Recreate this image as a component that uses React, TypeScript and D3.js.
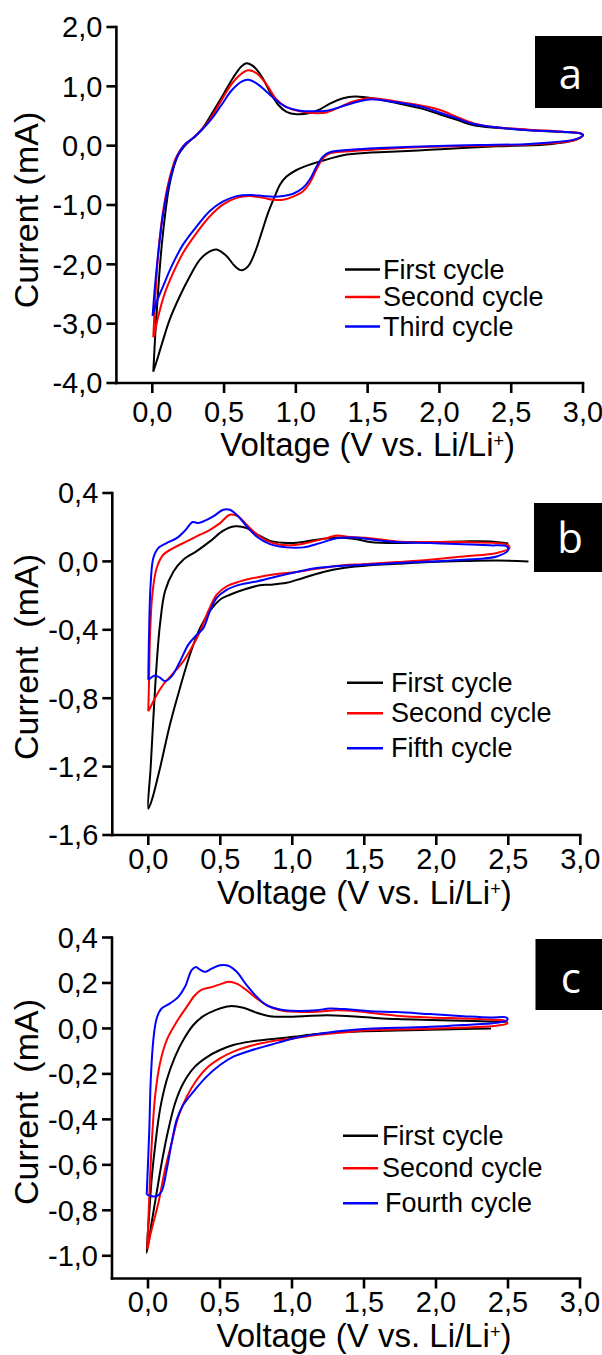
import React from 'react';
import * as d3 from 'd3';

type Pt = [number, number];

const xTicks = [0, 0.5, 1, 1.5, 2, 2.5, 3];
const aYTicks = [2, 1, 0, -1, -2, -3, -4];
const bYTicks = [0.4, 0, -0.4, -0.8, -1.2, -1.6];
const cYTicks = [0.4, 0.2, 0, -0.2, -0.4, -0.6, -0.8, -1.0];

const aLabels = ['First cycle', 'Second cycle', 'Third cycle'];
const bLabels = ['First cycle', 'Second cycle', 'Fifth cycle'];
const cLabels = ['First cycle', 'Second cycle', 'Fourth cycle'];
const colors = ['#000000', '#ff0000', '#0000ff'];

// Panel a
const aFirst: Pt[] = [
  [0.007, -3.81], [0.025, -3.0], [0.045, -2.3], [0.065, -1.7], [0.09, -1.15], [0.115, -0.72], [0.145, -0.4], [0.18, -0.16],
  [0.22, -0.02], [0.26, 0.08], [0.3, 0.16], [0.355, 0.31], [0.425, 0.58], [0.494, 0.86], [0.564, 1.15], [0.622, 1.34],
  [0.657, 1.39], [0.703, 1.34], [0.761, 1.17], [0.819, 0.91], [0.877, 0.69], [0.935, 0.57], [1.005, 0.53], [1.097, 0.55],
  [1.167, 0.61], [1.237, 0.71], [1.329, 0.8], [1.41, 0.83], [1.5, 0.81], [1.6, 0.77], [1.7, 0.72], [1.885, 0.62],
  [2.0, 0.53], [2.117, 0.44], [2.233, 0.35], [2.395, 0.3], [2.627, 0.26], [2.86, 0.23], [2.98, 0.21], [3.0, 0.18],
  [2.95, 0.1], [2.74, 0.02], [2.4, -0.01], [2.16, -0.04], [1.93, -0.07], [1.7, -0.1], [1.5, -0.12], [1.33, -0.16],
  [1.213, -0.235], [1.097, -0.32], [1.005, -0.41], [0.935, -0.52], [0.889, -0.66], [0.854, -0.85], [0.807, -1.13],
  [0.761, -1.47], [0.715, -1.8], [0.668, -2.03], [0.622, -2.1], [0.575, -2.03], [0.517, -1.86], [0.448, -1.75],
  [0.401, -1.78], [0.332, -1.92], [0.262, -2.2], [0.193, -2.53], [0.123, -2.92], [0.077, -3.26], [0.042, -3.54], [0.007, -3.81],
];
const aSecond: Pt[] = [
  [0.007, -3.23], [0.019, -2.64], [0.042, -1.8], [0.077, -1.08], [0.123, -0.52], [0.169, -0.18], [0.216, -0.01], [0.274, 0.11],
  [0.332, 0.24], [0.401, 0.44], [0.471, 0.72], [0.541, 1.0], [0.61, 1.19], [0.668, 1.27], [0.726, 1.22], [0.796, 1.03],
  [0.865, 0.78], [0.935, 0.65], [1.028, 0.58], [1.12, 0.55], [1.213, 0.56], [1.306, 0.65], [1.399, 0.745], [1.515, 0.8],
  [1.7, 0.745], [1.885, 0.67], [2.0, 0.605], [2.117, 0.49], [2.233, 0.38], [2.395, 0.31], [2.627, 0.27], [2.86, 0.235],
  [2.98, 0.21], [3.0, 0.18],
  [2.95, 0.1], [2.627, 0.02], [2.28, 0.0], [1.93, -0.02], [1.584, -0.06], [1.4, -0.09], [1.237, -0.13], [1.19, -0.21],
  [1.144, -0.4], [1.097, -0.63], [1.05, -0.77], [0.981, -0.86], [0.912, -0.91], [0.842, -0.91], [0.773, -0.88], [0.68, -0.85],
  [0.587, -0.88], [0.494, -0.99], [0.401, -1.19], [0.309, -1.47], [0.216, -1.8], [0.146, -2.14], [0.088, -2.48],
  [0.042, -2.87], [0.012, -3.2], [0.007, -3.23],
];
const aThird: Pt[] = [
  [0.002, -2.87], [0.019, -2.36], [0.042, -1.8], [0.077, -1.13], [0.123, -0.57], [0.169, -0.21], [0.227, 0.02], [0.285, 0.13],
  [0.343, 0.26], [0.413, 0.45], [0.483, 0.69], [0.552, 0.93], [0.622, 1.08], [0.668, 1.11], [0.726, 1.05], [0.796, 0.91],
  [0.865, 0.76], [0.935, 0.65], [1.028, 0.59], [1.12, 0.58], [1.213, 0.59], [1.306, 0.65], [1.399, 0.72], [1.515, 0.78],
  [1.7, 0.73], [1.885, 0.65], [2.0, 0.56], [2.117, 0.465], [2.233, 0.37], [2.395, 0.31], [2.627, 0.26], [2.86, 0.235],
  [2.99, 0.2], [3.0, 0.18],
  [2.95, 0.11], [2.627, 0.03], [2.28, 0.01], [1.93, -0.01], [1.584, -0.04], [1.4, -0.065], [1.237, -0.11], [1.19, -0.18],
  [1.144, -0.35], [1.097, -0.57], [1.05, -0.71], [0.981, -0.81], [0.912, -0.85], [0.842, -0.86], [0.773, -0.85], [0.68, -0.83],
  [0.587, -0.85], [0.494, -0.94], [0.401, -1.1], [0.309, -1.36], [0.216, -1.66], [0.135, -2.03], [0.077, -2.36],
  [0.03, -2.64], [0.002, -2.87],
];

// Panel b
const bFirst: Pt[] = [
  [2.64, 0.0], [2.42, 0.005], [2.19, 0.002], [1.956, -0.004], [1.725, -0.014], [1.539, -0.022], [1.354, -0.039], [1.215, -0.062],
  [1.076, -0.097], [0.96, -0.125], [0.845, -0.136], [0.775, -0.14], [0.66, -0.166], [0.567, -0.195], [0.498, -0.224],
  [0.428, -0.29], [0.359, -0.39], [0.289, -0.546], [0.22, -0.74], [0.15, -0.955], [0.081, -1.21], [0.023, -1.4], [0.0, -1.446],
  [0.016, -1.21], [0.035, -0.92], [0.058, -0.6], [0.081, -0.37], [0.116, -0.175], [0.174, -0.06], [0.243, 0.01], [0.336, 0.06],
  [0.428, 0.117], [0.521, 0.18], [0.602, 0.205], [0.683, 0.195], [0.752, 0.16], [0.845, 0.12], [0.9375, 0.109], [1.03, 0.109],
  [1.169, 0.127], [1.308, 0.14], [1.447, 0.13], [1.539, 0.113], [1.725, 0.107], [1.956, 0.113], [2.188, 0.117], [2.373, 0.117],
  [2.5, 0.105],
];
const bSecond: Pt[] = [
  [0.0, -0.877], [0.005, -0.7], [0.012, -0.43], [0.028, -0.195], [0.058, -0.039], [0.104, 0.039], [0.174, 0.078], [0.266, 0.117],
  [0.359, 0.156], [0.428, 0.185], [0.498, 0.224], [0.567, 0.273], [0.625, 0.263], [0.683, 0.214], [0.752, 0.16], [0.822, 0.121],
  [0.914, 0.097], [1.03, 0.097], [1.146, 0.117], [1.238, 0.136], [1.308, 0.152], [1.4, 0.142], [1.539, 0.136], [1.725, 0.117],
  [1.956, 0.113], [2.188, 0.113], [2.42, 0.107], [2.5, 0.095], [2.507, 0.078],
  [2.42, 0.049], [2.188, 0.029], [1.956, 0.01], [1.725, -0.004], [1.493, -0.016], [1.354, -0.022], [1.169, -0.043],
  [1.03, -0.062], [0.891, -0.074], [0.752, -0.094], [0.637, -0.117], [0.544, -0.146], [0.475, -0.195], [0.417, -0.29],
  [0.359, -0.41], [0.3, -0.507], [0.243, -0.585], [0.174, -0.653], [0.104, -0.72], [0.046, -0.8], [0.012, -0.858], [0.0, -0.877],
];
const bFifth: Pt[] = [
  [0.0, -0.692], [0.005, -0.43], [0.016, -0.136], [0.035, 0.02], [0.069, 0.078], [0.127, 0.107], [0.197, 0.136], [0.255, 0.18],
  [0.308, 0.23], [0.347, 0.224], [0.394, 0.238], [0.451, 0.263], [0.521, 0.302], [0.567, 0.302], [0.625, 0.263], [0.683, 0.205],
  [0.752, 0.146], [0.845, 0.101], [0.96, 0.082], [1.076, 0.082], [1.192, 0.107], [1.308, 0.136], [1.424, 0.14], [1.539, 0.13],
  [1.725, 0.113], [1.956, 0.107], [2.188, 0.1], [2.373, 0.094], [2.489, 0.088], [2.5, 0.068],
  [2.42, 0.029], [2.188, 0.01], [1.956, 0.0], [1.725, -0.01], [1.493, -0.02], [1.354, -0.025], [1.169, -0.039], [1.03, -0.062],
  [0.891, -0.088], [0.752, -0.117], [0.637, -0.136], [0.544, -0.166], [0.475, -0.214], [0.428, -0.29], [0.382, -0.39],
  [0.336, -0.43], [0.278, -0.487], [0.22, -0.585], [0.162, -0.672], [0.116, -0.7], [0.081, -0.68], [0.046, -0.667],
  [0.016, -0.682], [0.0, -0.692],
];

// Panel c
const cFirst: Pt[] = [
  [2.382, 0.0], [2.19, -0.003], [1.958, -0.006], [1.727, -0.009], [1.5, -0.012], [1.356, -0.016], [1.171, -0.025],
  [1.009, -0.037], [0.847, -0.048], [0.708, -0.058], [0.593, -0.073], [0.5, -0.095], [0.407, -0.127], [0.326, -0.168],
  [0.245, -0.241], [0.188, -0.329], [0.141, -0.446], [0.095, -0.592], [0.056, -0.738], [0.025, -0.855], [-0.009, -0.987],
  [0.009, -0.81], [0.025, -0.665], [0.049, -0.52], [0.083, -0.358], [0.13, -0.227], [0.188, -0.124], [0.245, -0.051],
  [0.315, 0.015], [0.384, 0.054], [0.477, 0.083], [0.569, 0.098], [0.662, 0.091], [0.755, 0.069], [0.847, 0.054],
  [0.94, 0.051], [1.079, 0.054], [1.24, 0.058], [1.403, 0.054], [1.542, 0.048], [1.727, 0.041], [1.958, 0.037],
  [2.19, 0.034], [2.375, 0.031], [2.49, 0.029],
];
const cSecond: Pt[] = [
  [-0.005, -0.972], [0.009, -0.738], [0.025, -0.519], [0.049, -0.3], [0.083, -0.154], [0.13, -0.051], [0.199, 0.029],
  [0.269, 0.095], [0.326, 0.146], [0.373, 0.171], [0.431, 0.18], [0.5, 0.194], [0.558, 0.205], [0.616, 0.197], [0.685, 0.168],
  [0.755, 0.132], [0.824, 0.102], [0.917, 0.08], [1.032, 0.073], [1.171, 0.073], [1.31, 0.08], [1.449, 0.076], [1.542, 0.069],
  [1.727, 0.056], [1.958, 0.048], [2.19, 0.044], [2.375, 0.039], [2.48, 0.034], [2.495, 0.022],
  [2.42, 0.012], [2.19, 0.004], [1.958, -0.001], [1.727, -0.005], [1.5, -0.009], [1.356, -0.018], [1.171, -0.029],
  [1.009, -0.044], [0.847, -0.058], [0.708, -0.077], [0.593, -0.102], [0.5, -0.132], [0.407, -0.175], [0.338, -0.227],
  [0.269, -0.3], [0.211, -0.387], [0.164, -0.504], [0.118, -0.621], [0.072, -0.768], [0.025, -0.885], [-0.005, -0.972],
];
const cFourth: Pt[] = [
  [-0.009, -0.731], [0.009, -0.446], [0.019, -0.227], [0.037, -0.051], [0.06, 0.044], [0.095, 0.088], [0.153, 0.11],
  [0.211, 0.139], [0.257, 0.183], [0.303, 0.256], [0.333, 0.27], [0.361, 0.259], [0.396, 0.249], [0.442, 0.263], [0.5, 0.278],
  [0.558, 0.276], [0.616, 0.249], [0.685, 0.19], [0.755, 0.139], [0.824, 0.102], [0.917, 0.083], [1.032, 0.077],
  [1.171, 0.08], [1.264, 0.088], [1.403, 0.083], [1.542, 0.076], [1.727, 0.072], [1.958, 0.063], [2.19, 0.054],
  [2.375, 0.048], [2.49, 0.048], [2.495, 0.037],
  [2.42, 0.025], [2.19, 0.015], [1.958, 0.007], [1.727, 0.003], [1.5, -0.002], [1.356, -0.01], [1.171, -0.025],
  [1.009, -0.044], [0.847, -0.073], [0.708, -0.098], [0.593, -0.124], [0.5, -0.161], [0.407, -0.212], [0.326, -0.27],
  [0.245, -0.336], [0.199, -0.402], [0.164, -0.504], [0.13, -0.621], [0.095, -0.716], [0.06, -0.738], [0.025, -0.738],
  [-0.009, -0.731],
];

const FONT = '"Liberation Sans", Arial, sans-serif';
const fmt = (v: number) => (Math.abs(v) < 1e-9 ? 0 : v).toFixed(1).replace('.', ',');

interface PanelProps {
  xRange: [number, number];
  yDomain: [number, number];
  yRange: [number, number];
  yTicks: number[];
  series: Pt[][];
  labels: string[];
  legend: { x1: number; x2: number; tx: number[]; ys: number[] };
  badge: { x: number; y: number; w: number; h: number; letter: string; ly: number };
  yTitle: string;
  yTitleY: number;
  xTickBase: number;
  xTitleBase: number;
}

function Panel(p: PanelProps) {
  const x = d3.scaleLinear().domain([-0.25, 3]).range(p.xRange);
  const y = d3.scaleLinear().domain(p.yDomain).range(p.yRange);
  const line = d3
    .line<Pt>()
    .x((d) => x(d[0]))
    .y((d) => y(d[1]))
    .curve(d3.curveCatmullRom.alpha(0.5));
  const ax = p.xRange[0];
  const ay = p.yRange[0];
  return (
    <g>
      {p.series.map((s, i) => (
        <path key={i} d={line(s) || ''} fill="none" stroke={colors[i]} strokeWidth={2} strokeLinejoin="round" />
      ))}
      <line x1={ax} x2={ax} y1={p.yRange[1]} y2={ay} stroke="#000" strokeWidth={2.6} strokeLinecap="square" />
      <line x1={ax} x2={x(3)} y1={ay} y2={ay} stroke="#000" strokeWidth={2.6} strokeLinecap="square" />
      {p.yTicks.map((t) => (
        <g key={'y' + t}>
          <line x1={ax - 10} x2={ax} y1={y(t)} y2={y(t)} stroke="#000" strokeWidth={2.6} />
          <text x={ax - 14} y={y(t)} dy="0.36em" textAnchor="end" fontSize={29} fontFamily={FONT} fill="#000">
            {fmt(t)}
          </text>
        </g>
      ))}
      {xTicks.map((t) => (
        <g key={'x' + t}>
          <line x1={x(t)} x2={x(t)} y1={ay} y2={ay + 10} stroke="#000" strokeWidth={2.6} />
          <text x={x(t)} y={p.xTickBase} textAnchor="middle" fontSize={29} fontFamily={FONT} fill="#000">
            {fmt(t)}
          </text>
        </g>
      ))}
      <text x={x(1.5)} y={p.xTitleBase} textAnchor="middle" fontSize={33} fontFamily={FONT} fill="#000">
        Voltage (V vs. Li/Li<tspan dy={-9} fontSize={18}>+</tspan><tspan dy={9}>)</tspan>
      </text>
      <text
        transform={`translate(38,${p.yTitleY}) rotate(-90)`}
        textAnchor="middle"
        fontSize={34}
        fontFamily={FONT}
        fill="#000"
        style={{ whiteSpace: 'pre' }}
      >
        {p.yTitle}
      </text>
      {p.labels.map((l, i) => (
        <g key={l}>
          <line x1={p.legend.x1} x2={p.legend.x2} y1={p.legend.ys[i]} y2={p.legend.ys[i]} stroke={colors[i]} strokeWidth={2.6} />
          <text x={p.legend.tx[i]} y={p.legend.ys[i] + 9} fontSize={27} fontFamily={FONT} fill="#000">
            {l}
          </text>
        </g>
      ))}
      <rect x={p.badge.x} y={p.badge.y} width={p.badge.w} height={p.badge.h} fill="#000" />
      <text
        x={p.badge.x + p.badge.w / 2 + 2}
        y={p.badge.ly}
        textAnchor="middle"
        fontSize={42}
        fontFamily='"Open Sans", "Noto Sans", sans-serif'
        fill="#fff"
      >
        {p.badge.letter}
      </text>
    </g>
  );
}

export default function App() {
  return (
    <svg
      width={602}
      height={1355}
      viewBox="0 0 602 1355"
      style={{ position: 'absolute', left: 0, top: 0, display: 'block', background: '#fff' }}
    >
      <rect x={0} y={0} width={602} height={1355} fill="#fff" />
      <Panel
        xRange={[116.4, 583]}
        yDomain={[-4, 2]}
        yRange={[383, 27]}
        yTicks={aYTicks}
        series={[aFirst, aSecond, aThird]}
        labels={aLabels}
        legend={{ x1: 345, x2: 380, tx: [383, 383, 383], ys: [269.5, 297, 326.5] }}
        badge={{ x: 535, y: 36, w: 67, h: 72, letter: 'a', ly: 89 }}
        yTitle="Current (mA)"
        yTitleY={210}
        xTickBase={422}
        xTitleBase={456}
      />
      <Panel
        xRange={[112.3, 580.3]}
        yDomain={[-1.6, 0.4]}
        yRange={[835, 493]}
        yTicks={bYTicks}
        series={[bFirst, bSecond, bFifth]}
        labels={bLabels}
        legend={{ x1: 347, x2: 383, tx: [391, 391, 391], ys: [682.7, 713.3, 748.3] }}
        badge={{ x: 534, y: 503, w: 68, h: 69, letter: 'b', ly: 553 }}
        yTitle="Current  (mA)"
        yTitleY={657}
        xTickBase={869}
        xTitleBase={904}
      />
      <Panel
        xRange={[112, 580]}
        yDomain={[-1.1, 0.4]}
        yRange={[1278.5, 937.5]}
        yTicks={cYTicks}
        series={[cFirst, cSecond, cFourth]}
        labels={cLabels}
        legend={{ x1: 343, x2: 378, tx: [382, 382, 385], ys: [1135.7, 1168.3, 1203.3] }}
        badge={{ x: 535.5, y: 939, w: 66.5, h: 71, letter: 'c', ly: 993 }}
        yTitle="Current  (mA)"
        yTitleY={1102}
        xTickBase={1312}
        xTitleBase={1347}
      />
    </svg>
  );
}
